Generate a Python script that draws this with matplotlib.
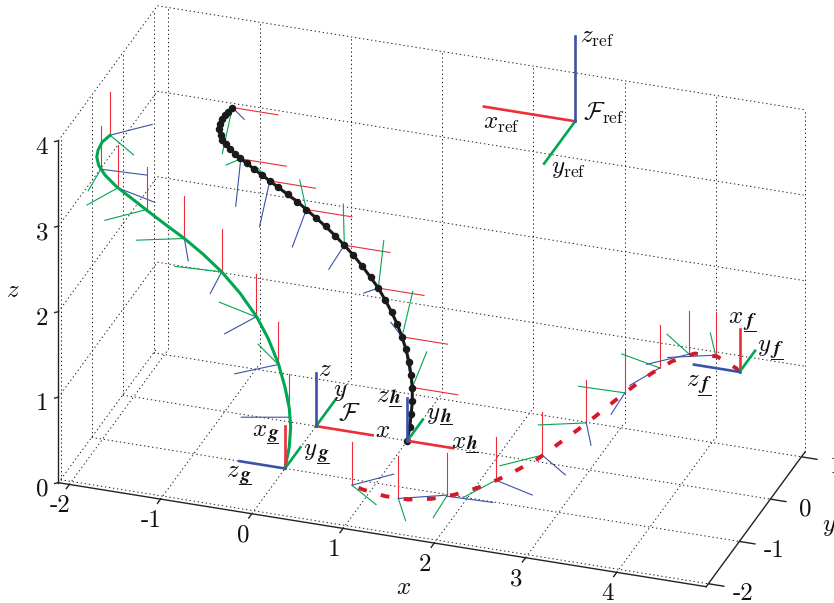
import numpy as np
import matplotlib
matplotlib.use('Agg')
import matplotlib.pyplot as plt
from matplotlib.lines import Line2D
from mpl_toolkits.mplot3d import proj3d

plt.rcParams['mathtext.fontset'] = 'cm'

RED = '#ed2d3a'
DASH_RED = '#d7182a'
GREEN = '#00a651'
BLUE = '#3a53a4'

x_ticks = [-2, -1, 0, 1, 2, 3, 4]
y_ticks = [-2, -1, 0, 1]
z_ticks = [0, 1, 2, 3, 4]
xmin, xmax = -2.12, 4.98
ymin, ymax = -2.07, 1.12
zmin, zmax = 0, 4

# green curve, it lies in y = -1
g_y = -1.0
g_x = [0, .047, .062, .047, 0, -.073, -.186, -.310, -.493, -.694, -.898, -1.103, -1.315, -1.515,
       -1.662, -1.844, -1.972, -2.043, -2.063, -2.049, -2.005, -1.917]
g_z = [0, .261, .497, .713, .951, 1.215, 1.492, 1.720, 1.966, 2.181, 2.353, 2.501, 2.632, 2.761,
       2.859, 2.978, 3.093, 3.197, 3.291, 3.372, 3.473, 3.570]
g_frame_x = [-1.917, -2.019, -1.833, -1.515, -1.103, -.694, -.318, -.073, .049]
g_frame_z = [3.570, 3.155, 2.968, 2.770, 2.501, 2.181, 1.719, 1.204, .608]
g_frame_yaw = [47.9, 3.6, -21, -41.9, -66.6, -85, -111.8, -136.2, -160.9]

# black curve, y = 0
h_y = 0.0
h_x = [1, 1.027, 1.044, 1.055, 1.055, 1.041, 1.019, .986, .942, .891, .829, .759, .683, .599, .507,
       .409, .310, .211, .106, 0, -.106, -.208, -.310, -.413, -.507, -.595, -.679, -.756, -.829,
       -.887, -.939, -.986, -1.027, -1.044, -1.059, -1.052, -1.030, -.997, -.961, -.917]
h_z = [0, .168, .323, .477, .633, .778, .927, 1.066, 1.206, 1.342, 1.475, 1.604, 1.732, 1.842, 1.958,
       2.070, 2.170, 2.262, 2.354, 2.436, 2.516, 2.592, 2.657, 2.721, 2.782, 2.837, 2.889, 2.943, 2.989,
       3.037, 3.079, 3.126, 3.177, 3.225, 3.289, 3.352, 3.411, 3.467, 3.511, 3.570]
h_frame_x = [-.917, -.825, -.507, -.106, .310, .683, .942, 1.055]
h_frame_z = [3.570, 2.985, 2.782, 2.516, 2.170, 1.732, 1.206, .633]
h_frame_tilt = [130.6, -161, -138.5, -115.4, -93.9, -69.6, -45.9, -22]

# red dashed curve, y = -1.3
f_y = -1.3
f_x = [.836, .954, 1.198, 1.450, 1.705, 1.954, 2.203, 2.439, 2.663, 2.878, 3.104, 3.309, 3.510, 3.715,
       3.912, 4.123, 4.346, 4.591, 4.839, 5.051, 5.084]
f_z = [.096, .066, .030, .034, .085, .175, .296, .438, .596, .758, .973, 1.167, 1.365, 1.576,
       1.773, 1.970, 2.148, 2.280, 2.287, 2.184, 2.149]
f_frame_x = [.836, 1.344, 1.874, 2.414, 2.921, 3.404, 3.827, 4.208, 4.532, 4.821]
f_frame_z = [.096, .028, .146, .425, .805, 1.265, 1.689, 2.046, 2.262, 2.300]
f_frame_yaw = [48.8, 27.5, 2.6, -22.4, -42.6, -65.6, -87.8, -109.5, -133.8, -155]

fig = plt.figure(figsize=(8.34, 6.03), dpi=100)
ax = fig.add_axes([11.2 / 834, -113.8 / 603, 819 / 834, 819 / 603], projection='3d', computed_zorder=False)
ax.set_xlim(xmin, xmax)
ax.set_ylim(ymin, ymax)
ax.set_zlim(zmin, zmax)
ax.set_box_aspect((685, 305, 387))
ax.view_init(elev=27.9, azim=-71.06)
ax.set_proj_type('ortho')
ax.set_axis_off()


def seg(a, b, **kw):
    ax.plot([a[0], b[0]], [a[1], b[1]], [a[2], b[2]], **kw)


grid = dict(color='#222222', lw=0.7, ls=(0, (1.4, 2.8)), zorder=1)
solid = dict(color='#222222', lw=1.0, zorder=2)

for x in x_ticks:
    seg((x, ymin, 0), (x, ymax, 0), **grid)
    seg((x, ymax, 0), (x, ymax, zmax), **grid)
    seg((x, ymin, 0), (x, ymin - .1, 0), **solid)
seg((xmax, ymax, 0), (xmax, ymax, zmax), **grid)
for y in y_ticks:
    seg((xmin, y, 0), (xmax, y, 0), **grid)
    seg((xmin, y, 0), (xmin, y, zmax), **grid)
    seg((xmax, y, 0), (xmax + .17, y, 0), **solid)
for z in z_ticks:
    seg((xmin, ymin, z), (xmin, ymax, z), **grid)
    if z > 0:
        seg((xmin, ymax, z), (xmax, ymax, z), **grid)
    seg((xmin, ymin, z), (xmin - .03, ymin - .03, z), **solid)
seg((xmin, ymin, 0), (xmax, ymin, 0), **solid)
seg((xmax, ymin, 0), (xmax, ymax, 0), **solid)
seg((xmin, ymin, 0), (xmin, ymin, zmax), **solid)


def frame(o, ex, ey, ez, size, lw, z=3):
    o = np.array(o, float)
    seg(o, o + size * np.array(ex), color=RED, lw=lw, zorder=z)
    seg(o, o + size * np.array(ey), color=GREEN, lw=lw, zorder=z)
    seg(o, o + size * np.array(ez), color=BLUE, lw=lw, zorder=z)


# thin frames along the three curves
for x, z, yaw in zip(g_frame_x, g_frame_z, g_frame_yaw):
    t = np.radians(yaw)
    frame((x, g_y, z), (0, 0, 1), (np.sin(t), -np.cos(t), 0), (np.cos(t), np.sin(t), 0), .5, .8)
for x, z, yaw in zip(f_frame_x, f_frame_z, f_frame_yaw):
    t = np.radians(yaw)
    frame((x, f_y, z), (0, 0, 1), (np.sin(t), -np.cos(t), 0), (np.cos(t), np.sin(t), 0), .5, .8)
for x, z, tilt in zip(h_frame_x, h_frame_z, h_frame_tilt):
    t = np.radians(tilt)
    frame((x, h_y, z), (1, 0, 0), (0, np.cos(t), -np.sin(t)), (0, np.sin(t), np.cos(t)), .5, .8)

ax.plot(g_x, [g_y] * len(g_x), g_z, color=GREEN, lw=2.2, zorder=4)
ax.plot(h_x, [h_y] * len(h_x), h_z, color='#1a1a1a', lw=2.2, marker='o', ms=4.4, zorder=4)
ax.plot(f_x, [f_y] * len(f_x), f_z, color=DASH_RED, lw=2.8, ls=(4.18, (2.25, 3.75)), zorder=4,
        dash_capstyle='butt')

# thick frames
frame((0, 0, 0), (1, 0, 0), (0, 1, 0), (0, 0, 1), .62, 1.9, z=5)
frame((2.5, 1, 3.5), (-1, 0, 0), (0, -1, 0), (0, 0, 1), 1.0, 1.9, z=5)
frame((h_x[0], h_y, h_z[0]), (1, 0, 0), (0, 1, 0), (0, 0, 1), .5, 1.9, z=5)
frame((g_x[0], g_y, g_z[0]), (0, 0, 1), (0, 1, 0), (-1, 0, 0), .5, 1.9, z=5)
frame((f_x[-1], f_y, f_z[-1]), (0, 0, 1), (0, 1, 0), (-1, 0, 0), .5, 1.9, z=5)

# tick labels
fs = 18
num = dict(family='cmr10', fontsize=fs, ha='center', va='center', color='#111111')
M = ax.get_proj()


def tick_text(x, y, z, s):
    px, py, _ = proj3d.proj_transform(x, y, z, M)
    ax.text2D(px, py, s, transform=ax.transData, **num)


for x in x_ticks:
    tick_text(x, ymin - .29, -.11, str(x))
for y in y_ticks:
    tick_text(xmax + .38, y, -.05, str(y))
for z in z_ticks:
    tick_text(xmin - .18, ymin, z - .11, str(z))


def label(u, v, s, size=fs):
    fig.text(u / 834, 1 - v / 603, s, fontsize=size, ha='center', va='center', color='#111111')


def sub_label(u, v, letter, su, sv, sub, u0, u1, uv):
    # the letter with its bold underlined index
    label(u - .8, v, '$%s$' % letter)
    label(su + .3, sv, r'$\boldsymbol{%s}$' % sub, size=14)
    fig.add_artist(Line2D([u0 / 834, u1 / 834], [1 - uv / 603, 1 - uv / 603], color='#111111', lw=0.7,
                          transform=fig.transFigure))


label(404, 586.7, r'$x$')
label(829, 526, r'$y$')
label(12.7, 290, r'$z$')
label(597.3, 37.3, r'$z_{\mathrm{ref}}$')
label(604, 113.3, r'$\mathcal{F}_{\mathrm{ref}}$')
label(501.7, 122.7, r'$x_{\mathrm{ref}}$')
label(568.3, 168.3, r'$y_{\mathrm{ref}}$')
label(349, 412.7, r'$\mathcal{F}$')
label(383, 430, r'$x$')
label(340, 390.7, r'$y$')
label(325, 369.3, r'$z$')
sub_label(260.7, 429, 'x', 272.5, 435, 'g', 266.7, 278.3, 442.7)
sub_label(311, 450, 'y', 322.7, 455, 'g', 317.3, 329, 462.7)
sub_label(234, 470, 'z', 244.7, 476, 'g', 239.3, 250.7, 484)
sub_label(384, 395, 'z', 395, 397.5, 'h', 389, 401, 406)
sub_label(434, 414.3, 'y', 446, 416.7, 'h', 440, 452, 424.3)
sub_label(459, 441, 'x', 472, 443.3, 'h', 466, 478.3, 451.7)
sub_label(736.3, 316, 'x', 750, 321, 'f', 744, 756.3, 331)
sub_label(764.7, 345.7, 'y', 777, 349.3, 'f', 770.7, 783.3, 359)
sub_label(693.3, 379.3, 'z', 704.7, 384.5, 'f', 698.3, 710.7, 394.7)

fig.savefig('out.png', dpi=100)
